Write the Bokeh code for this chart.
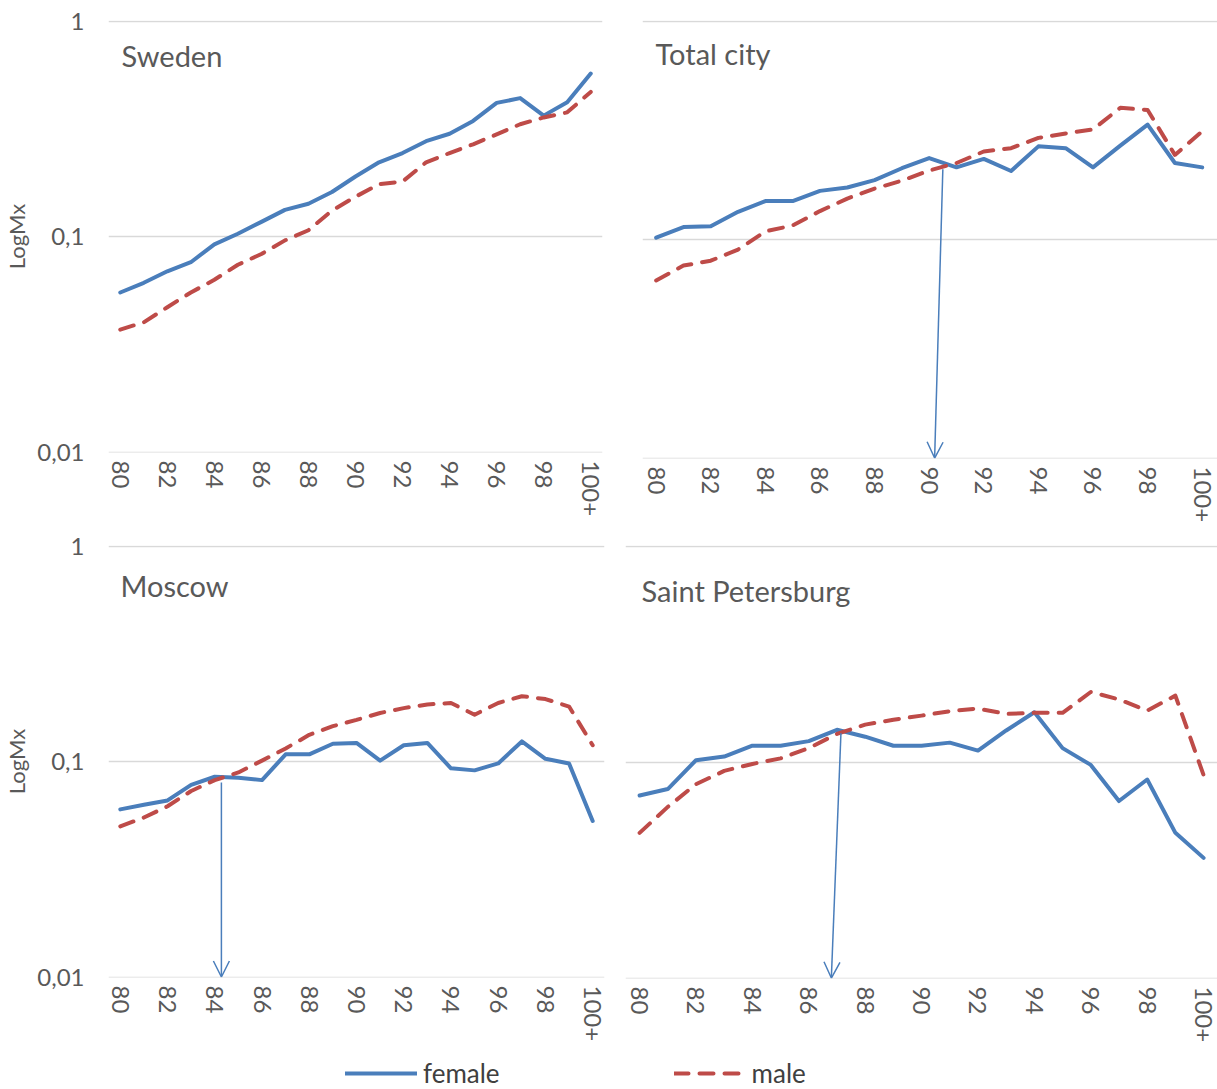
from bokeh.plotting import figure
from bokeh.models import (Range1d, FixedTicker, CustomJSTickFormatter, Label, Arrow,
                          OpenHead, Legend, LegendItem)
from bokeh.layouts import column, row
from bokeh.embed import file_html
from bokeh.resources import INLINE

# ---------------- data ----------------
ages = ["80", "81", "82", "83", "84", "85", "86", "87", "88", "89", "90",
        "91", "92", "93", "94", "95", "96", "97", "98", "99", "100+"]

sweden_female = [0.055, 0.061, 0.069, 0.076, 0.092, 0.103, 0.117, 0.133, 0.142, 0.161, 0.190,
                 0.221, 0.244, 0.277, 0.300, 0.344, 0.417, 0.439, 0.364, 0.420, 0.571]
sweden_male = [0.037, 0.040, 0.047, 0.055, 0.063, 0.074, 0.083, 0.096, 0.107, 0.132, 0.153,
               0.175, 0.180, 0.221, 0.244, 0.268, 0.298, 0.332, 0.357, 0.377, 0.469]

total_female = [0.102, 0.114, 0.115, 0.134, 0.150, 0.150, 0.167, 0.173, 0.187, 0.212, 0.236,
                0.214, 0.234, 0.206, 0.267, 0.262, 0.214, 0.269, 0.336, 0.224, 0.214]
total_male = [0.065, 0.076, 0.080, 0.090, 0.109, 0.116, 0.135, 0.154, 0.171, 0.186, 0.207,
              0.224, 0.253, 0.262, 0.292, 0.306, 0.319, 0.401, 0.392, 0.244, 0.313]

moscow_female = [0.060, 0.063, 0.066, 0.078, 0.085, 0.084, 0.082, 0.108, 0.108, 0.121, 0.122,
                 0.101, 0.119, 0.122, 0.093, 0.091, 0.098, 0.124, 0.103, 0.098, 0.053]
moscow_male = [0.050, 0.055, 0.062, 0.073, 0.082, 0.089, 0.101, 0.115, 0.133, 0.146, 0.156,
               0.168, 0.177, 0.184, 0.187, 0.165, 0.187, 0.201, 0.195, 0.180, 0.119]

stp_female = [0.070, 0.075, 0.102, 0.106, 0.119, 0.119, 0.125, 0.141, 0.131, 0.119, 0.119,
              0.123, 0.113, 0.140, 0.170, 0.116, 0.097, 0.066, 0.083, 0.047, 0.036]
stp_male = [0.047, 0.062, 0.079, 0.091, 0.098, 0.104, 0.116, 0.135, 0.149, 0.157, 0.164,
            0.172, 0.177, 0.167, 0.169, 0.169, 0.211, 0.195, 0.173, 0.203, 0.087]

y_ticks = [0.01, 0.1, 1]
x_tick_every = 2

# crossover arrows (age position in category units, rate value)
arrow_total = dict(x_start=10.5, y_start=0.21, x_end=10.2, y_end=0.01)
arrow_moscow = dict(x_start=4.28, y_start=0.080, x_end=4.28, y_end=0.01)
arrow_stp = dict(x_start=7.14, y_start=0.136, x_end=6.80, y_end=0.01)

# ---------------- style ----------------
FONT = "Lato"
BLUE = "#4a7ebb"
RED = "#be4b48"
GRID = "#d9d9d9"
TEXT = "#595959"

x_idx = list(range(len(ages)))


def make_panel(title, female, male, arrow, show_y, fw, fh, bl, br, bt, bb, x_end, tx, ty):
    p = figure(frame_width=fw, frame_height=fh, output_backend="svg", toolbar_location=None,
               y_axis_type="log", x_range=Range1d(-0.5, x_end), y_range=Range1d(0.00995, 1.006),
               min_border_left=bl, min_border_right=br, min_border_top=bt, min_border_bottom=bb)
    p.outline_line_color = None
    p.background_fill_color = "white"
    p.border_fill_color = "white"

    ticks = list(range(0, len(ages), x_tick_every))
    p.xaxis.ticker = FixedTicker(ticks=ticks)
    p.xaxis.major_label_overrides = {i: ages[i] for i in ticks}
    p.xaxis.major_label_orientation = "vertical"
    p.xaxis.axis_line_color = None
    p.xaxis.major_tick_line_color = None
    p.xaxis.minor_tick_line_color = None
    p.xaxis.major_label_text_font = FONT
    p.xaxis.major_label_text_font_size = "24px"
    p.xaxis.major_label_text_color = TEXT
    p.xaxis.major_label_standoff = 2
    p.xgrid.visible = False

    p.yaxis.ticker = FixedTicker(ticks=y_ticks)
    p.yaxis.formatter = CustomJSTickFormatter(code="return tick.toString().replace('.', ',');")
    p.yaxis.axis_line_color = None
    p.yaxis.major_tick_line_color = None
    p.yaxis.minor_tick_line_color = None
    p.yaxis.major_label_text_font = FONT
    p.yaxis.major_label_text_font_size = "24px"
    p.yaxis.major_label_text_color = TEXT
    p.yaxis.major_label_standoff = 18
    if show_y:
        p.yaxis.axis_label = "LogMx"
        p.yaxis.axis_label_text_font = FONT
        p.yaxis.axis_label_text_font_style = "normal"
        p.yaxis.axis_label_text_font_size = "22px"
        p.yaxis.axis_label_text_color = TEXT
        p.yaxis.axis_label_standoff = 4
    else:
        p.yaxis.visible = False

    p.ygrid.ticker = FixedTicker(ticks=y_ticks)
    p.ygrid.grid_line_color = GRID
    p.ygrid.grid_line_width = 1.3

    p.line(x_idx, female, line_color=BLUE, line_width=4, line_join="round", line_cap="round")
    p.line(x_idx, male, line_color=RED, line_width=4, line_dash="14 11",
           line_join="round", line_cap="round")

    if arrow is not None:
        p.add_layout(Arrow(end=OpenHead(size=16, line_color=BLUE, line_width=1.5),
                           line_color=BLUE, line_width=1.5, **arrow))

    p.add_layout(Label(x=tx, y=ty, x_units="screen", y_units="screen", text=title,
                       text_font=FONT, text_font_size="29px", text_color=TEXT,
                       text_baseline="middle", text_align="left"))
    return p


# frames placed in page pixels: Sweden 108..602 x 20..452, Total city 642..1217 x 17..455,
# Moscow 105..601 x 545..977, Saint Petersburg 622..1217 x 545..978
pA = make_panel("Sweden", sweden_female, sweden_male, None, True,
                494, 432, 108, 8, 20, 78, 20.5, 13, 397)
pB = make_panel("Total city", total_female, total_male, arrow_total, False,
                575, 438, 32, 0, 17, 75, 20.56, 13, 405)
pC = make_panel("Moscow", moscow_female, moscow_male, arrow_moscow, True,
                496, 432, 105, 9, 15, 76, 20.5, 12, 392)
pD = make_panel("Saint Petersburg", stp_female, stp_male, arrow_stp, False,
                595, 433, 12, 0, 15, 75, 20.6, 16, 388)

# legend strip
nan = float("nan")
pe = figure(width=1217, height=36, output_backend="svg", toolbar_location=None,
            x_range=Range1d(0, 1), y_range=Range1d(0, 1),
            x_axis_location=None, y_axis_location=None,
            min_border_left=0, min_border_right=0, min_border_top=0, min_border_bottom=0)
pe.outline_line_color = None
pe.grid.visible = False
rf = pe.line(x=[nan], y=[nan], line_color=BLUE, line_width=4, line_cap="round")
rm = pe.line(x=[nan], y=[nan], line_color=RED, line_width=4, line_dash="14 11", line_cap="round")
legend = Legend(items=[LegendItem(label="female", renderers=[rf]),
                       LegendItem(label="male", renderers=[rm])],
                orientation="horizontal", location=(345, 0), glyph_width=72, glyph_height=20,
                label_standoff=6, spacing=174, padding=0, margin=0,
                border_line_color=None, background_fill_alpha=0,
                label_text_font=FONT, label_text_font_size="26px", label_text_color="#404040")
pe.add_layout(legend)

layout = column(row(pA, pB), row(pC, pD), pe)

open("out.html", "w").write(file_html(layout, INLINE))
